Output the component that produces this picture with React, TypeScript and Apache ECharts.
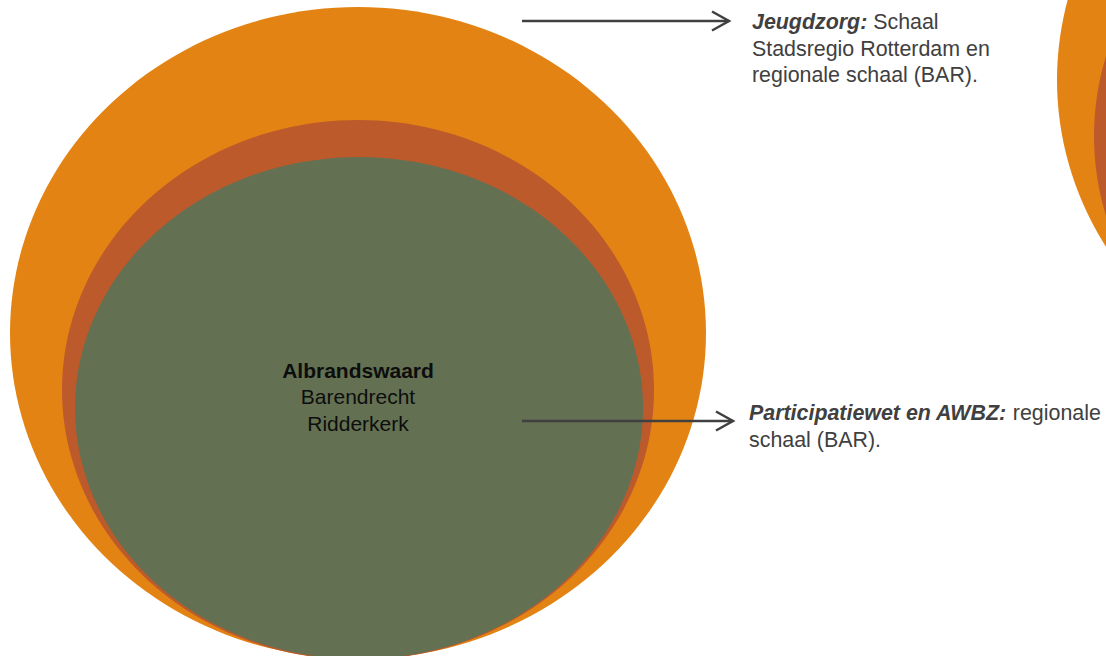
import React, { useEffect, useRef } from "react";
import * as echarts from "echarts";

const W = 1106;
const H = 656;

// Layers (outer to inner): regional scale, BAR, municipality group
const layerNames = ["Stadsregio", "Regionaal", "Gemeenten"];
const layerColors = ["#E38313", "#BD5A2C", "#637152"];

// Main nested ellipses (centre x, centre y, radius x, radius y), in diagram units
const mainCenterX = [358, 358, 359];
const mainCenterY = [333, 390, 408];
const mainRadiusX = [348, 296, 284];
const mainRadiusY = [326, 270, 251];

// Partially visible group on the right edge
const sideCenterX = [1405, 1414];
const sideCenterY = [80, 136];
const sideRadiusX = [348, 320];
const sideRadiusY = [326, 295];

const municipalities = ["Albrandswaard", "Barendrecht", "Ridderkerk"];

// Arrows: start x, tip x, y
const arrowStartX = [522, 522];
const arrowTipX = [729, 733];
const arrowY = [21, 421];

const annotations = [
  { bold: "Jeugdzorg:", rest: " Schaal\nStadsregio Rotterdam en\nregionale schaal (BAR).", x: 752, y: 22 },
  { bold: "Participatiewet en AWBZ:", rest: " regionale\nschaal (BAR).", x: 749, y: 413 },
];

const FONT = "'Liberation Sans', Arial, sans-serif";
const FS_CENTER = 21;
const FS_SIDE = 21.4;

export default function App() {
  const ref = useRef<HTMLDivElement>(null);

  useEffect(() => {
    document.body.style.margin = "0";
    if (!ref.current) return;
    const chart = echarts.init(ref.current, undefined, { renderer: "svg" });

    const series: any[] = [];
    layerNames.forEach((name, i) => {
      const data: any[] = [
        { value: [mainCenterX[i], mainCenterY[i]], symbolSize: [mainRadiusX[i] * 2, mainRadiusY[i] * 2] },
      ];
      if (i < sideCenterX.length) {
        data.push({ value: [sideCenterX[i], sideCenterY[i]], symbolSize: [sideRadiusX[i] * 2, sideRadiusY[i] * 2] });
      }
      series.push({
        type: "scatter",
        name,
        symbol: "circle",
        data,
        itemStyle: { color: layerColors[i], opacity: 1 },
        silent: true,
        clip: false,
        z: 2 + i,
      });
    });

    arrowY.forEach((y, i) => {
      series.push({
        type: "line",
        data: [[arrowStartX[i], y], [arrowTipX[i], y]],
        symbol: "none",
        lineStyle: { color: "#404040", width: 2.5 },
        silent: true,
        z: 10,
      });
      series.push({
        type: "line",
        data: [[arrowTipX[i] - 17, y - 9.5], [arrowTipX[i], y], [arrowTipX[i] - 17, y + 9.5]],
        symbol: "none",
        lineStyle: { color: "#404040", width: 2.5, join: "miter" },
        silent: true,
        z: 10,
      });
    });

    chart.setOption({
      animation: false,
      grid: { left: 0, right: 0, top: 0, bottom: 0 },
      xAxis: { type: "value", min: 0, max: W, show: false },
      yAxis: { type: "value", min: 0, max: H, inverse: true, show: false },
      series,
    });

    const toPx = (x: number, y: number) => chart.convertToPixel({ gridIndex: 0 }, [x, y]) as number[];
    const LH = 26.5;
    const centerPos = toPx(mainCenterX[0], 370);
    const graphics: any[] = [
      {
        type: "text",
        x: centerPos[0],
        y: centerPos[1] - LH / 2,
        z: 20,
        silent: true,
        style: {
          text: `{b|${municipalities[0]}}\n${municipalities.slice(1).join("\n")}`,
          fontFamily: FONT,
          fontSize: FS_CENTER,
          lineHeight: LH,
          fill: "#0d0d0d",
          align: "center",
          verticalAlign: "top",
          rich: {
            b: { fontFamily: FONT, fontSize: FS_CENTER, fontWeight: "bold", lineHeight: LH, fill: "#0d0d0d" },
          },
        },
      },
    ];
    annotations.forEach((a) => {
      const p = toPx(a.x, a.y);
      graphics.push({
        type: "text",
        x: p[0],
        y: p[1] - LH / 2,
        z: 20,
        silent: true,
        style: {
          text: `{b|${a.bold}}${a.rest}`,
          fontFamily: FONT,
          fontSize: FS_SIDE,
          lineHeight: LH,
          fill: "#404040",
          align: "left",
          verticalAlign: "top",
          rich: {
            b: {
              fontFamily: FONT,
              fontSize: FS_SIDE,
              fontWeight: "bold",
              fontStyle: "italic",
              lineHeight: LH,
              fill: "#404040",
            },
          },
        },
      });
    });
    chart.setOption({ graphic: graphics });

    return () => chart.dispose();
  }, []);

  return <div ref={ref} style={{ width: W, height: H }} />;
}
